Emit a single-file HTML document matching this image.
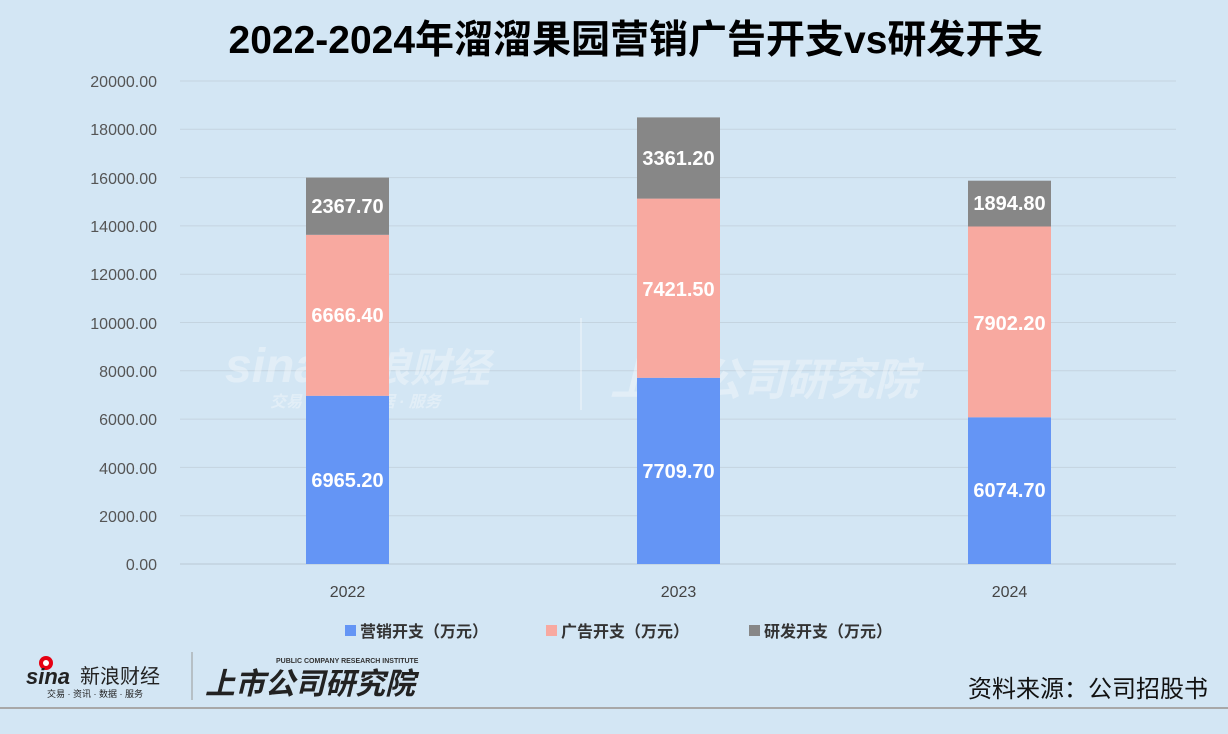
<!DOCTYPE html>
<html><head><meta charset="utf-8"><style>
body{margin:0;width:1228px;height:734px;background:#d3e6f4;overflow:hidden;font-family:"Liberation Sans","Noto Sans CJK SC",sans-serif}
</style></head><body>
<svg width="1228" height="734" xmlns="http://www.w3.org/2000/svg" style="position:absolute;left:0;top:0">
<rect width="1228" height="734" fill="#d3e6f4"/>
<text x="636" y="53" text-anchor="middle" font-size="39" font-weight="bold" fill="#000" font-family="Liberation Sans,Noto Sans CJK SC,sans-serif">2022-2024年溜溜果园营销广告开支vs研发开支</text>
<g stroke="#c4d4e0" stroke-width="1">
<line x1="180" x2="1176" y1="81" y2="81"/><line x1="180" x2="1176" y1="129.3" y2="129.3"/><line x1="180" x2="1176" y1="177.6" y2="177.6"/><line x1="180" x2="1176" y1="225.9" y2="225.9"/><line x1="180" x2="1176" y1="274.2" y2="274.2"/><line x1="180" x2="1176" y1="322.5" y2="322.5"/><line x1="180" x2="1176" y1="370.8" y2="370.8"/><line x1="180" x2="1176" y1="419.1" y2="419.1"/><line x1="180" x2="1176" y1="467.4" y2="467.4"/><line x1="180" x2="1176" y1="515.7" y2="515.7"/>
</g>
<line x1="180" x2="1176" y1="564" y2="564" stroke="#b8c8d4"/>
<g font-size="16" fill="#555" text-anchor="end" font-family="Liberation Sans,sans-serif">
<text x="157" y="87">20000.00</text><text x="157" y="135">18000.00</text><text x="157" y="184">16000.00</text><text x="157" y="232">14000.00</text><text x="157" y="280">12000.00</text><text x="157" y="329">10000.00</text><text x="157" y="377">8000.00</text><text x="157" y="425">6000.00</text><text x="157" y="474">4000.00</text><text x="157" y="522">2000.00</text><text x="157" y="570">0.00</text>
</g>
<g opacity="0.35" fill="#fff" font-weight="bold" font-style="italic">
<text x="225" y="382" font-size="48">sina</text><text x="330" y="382" font-size="40">新浪财经</text>
<text x="270" y="407" font-size="16">交易 · 资讯 · 数据 · 服务</text>
<rect x="580" y="318" width="2" height="92"/>
<text x="610" y="395" font-size="44">上市公司研究院</text>
</g>
<rect x="306" y="395.8" width="83" height="168.2" fill="#6495f5"/>
<rect x="306" y="234.8" width="83" height="161" fill="#f8a9a0"/>
<rect x="306" y="177.6" width="83" height="57.2" fill="#878787"/>
<rect x="637" y="377.8" width="83" height="186.2" fill="#6495f5"/>
<rect x="637" y="198.6" width="83" height="179.2" fill="#f8a9a0"/>
<rect x="637" y="117.4" width="83" height="81.2" fill="#878787"/>
<rect x="968" y="417.3" width="83" height="146.7" fill="#6495f5"/>
<rect x="968" y="226.5" width="83" height="190.8" fill="#f8a9a0"/>
<rect x="968" y="180.7" width="83" height="45.8" fill="#878787"/>
<g font-size="20" font-weight="bold" fill="#fff" text-anchor="middle" font-family="Liberation Sans,sans-serif">
<text x="347.5" y="487">6965.20</text><text x="347.5" y="322">6666.40</text><text x="347.5" y="213">2367.70</text>
<text x="678.5" y="478">7709.70</text><text x="678.5" y="296">7421.50</text><text x="678.5" y="165">3361.20</text>
<text x="1009.5" y="497">6074.70</text><text x="1009.5" y="330">7902.20</text><text x="1009.5" y="210">1894.80</text>
</g>
<g font-size="16" fill="#444" text-anchor="middle" font-family="Liberation Sans,sans-serif">
<text x="347.5" y="597">2022</text><text x="678.5" y="597">2023</text><text x="1009.5" y="597">2024</text>
</g>
<g font-size="16" fill="#333" font-weight="bold">
<rect x="345" y="625" width="11" height="11" fill="#6495f5"/><text x="360" y="637">营销开支（万元）</text>
<rect x="546" y="625" width="11" height="11" fill="#f8a9a0"/><text x="561" y="637">广告开支（万元）</text>
<rect x="749" y="625" width="11" height="11" fill="#878787"/><text x="764" y="637">研发开支（万元）</text>
</g>
<circle cx="46" cy="663" r="7" fill="#e60012"/><circle cx="46" cy="663" r="3" fill="#fff"/>
<text x="26" y="684" font-size="22" font-weight="bold" font-style="italic" fill="#222">sina</text>
<text x="80" y="683" font-size="20" fill="#222">新浪财经</text>
<text x="47" y="697" font-size="9" fill="#222">交易 · 资讯 · 数据 · 服务</text>
<line x1="192" x2="192" y1="652" y2="700" stroke="#999"/>
<text x="276" y="663" font-size="7" font-weight="bold" fill="#333">PUBLIC COMPANY RESEARCH INSTITUTE</text>
<text x="205" y="694" font-size="30" font-weight="bold" font-style="italic" fill="#222">上市公司研究院</text>
<text x="1208" y="697" text-anchor="end" font-size="24" fill="#111">资料来源：公司招股书</text>
<line x1="0" x2="1228" y1="708" y2="708" stroke="#a8a8a8" stroke-width="2"/>
</svg>
</body></html>
